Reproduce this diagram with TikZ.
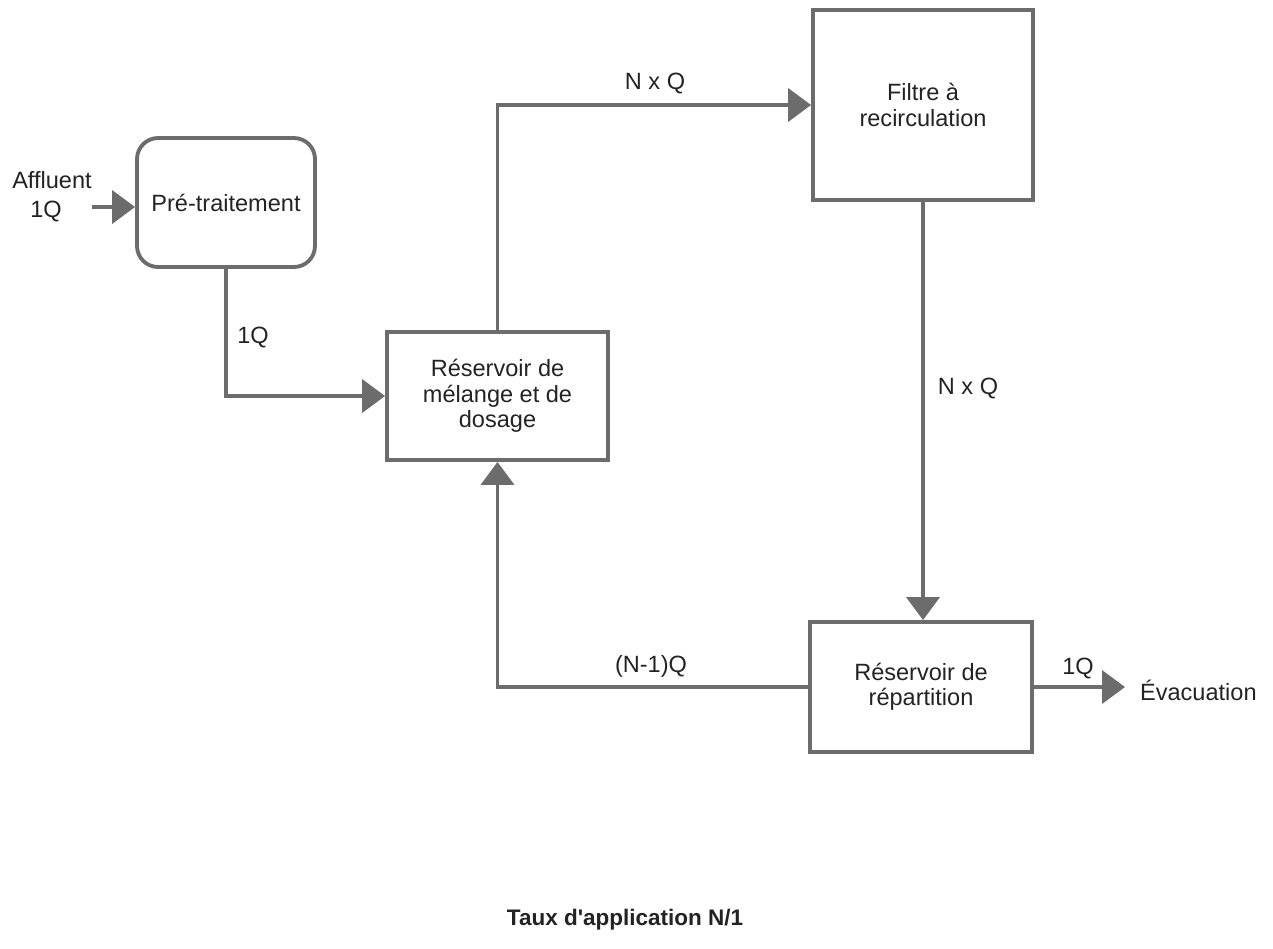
\documentclass[tikz,border=0pt]{standalone}
\usepackage{fontspec}
\setmainfont{Liberation Sans}
\usetikzlibrary{arrows.meta}
\definecolor{linegray}{RGB}{108,108,108}
\definecolor{txt}{RGB}{35,35,35}
\tikzset{
  flow/.style={draw=linegray, line width=2.2pt, -{Triangle[length=0.46cm, width=0.66cm, fill=linegray]}},
  plain/.style={draw=linegray, line width=2.2pt},
  box/.style={draw=linegray, line width=2.2pt, fill=white, align=center, text=txt,
    font=\fontsize{13.4}{14.4}\selectfont, inner sep=0pt},
  lab/.style={text=txt, font=\fontsize{13.4}{14}\selectfont, inner sep=1pt}
}
\begin{document}
\begin{tikzpicture}[x=0.02cm, y=-0.02cm]
\useasboundingbox (0,0) rectangle (1273,948);
% boxes
\node[box, rounded corners=0.42cm, minimum width=3.56cm, minimum height=2.58cm] (pre) at (226,202.5) {Pré-traitement};
\node[box, minimum width=4.42cm, minimum height=2.56cm] (mel) at (497.5,396) {Réservoir de\\mélange et de\\dosage};
\node[box, minimum width=4.40cm, minimum height=3.80cm] (fil) at (923,105) {Filtre à\\recirculation};
\node[box, minimum width=4.44cm, minimum height=2.60cm] (rep) at (921,687) {Réservoir de\\répartition};
% free ends
\coordinate (aff) at (92,207);
\coordinate (evac) at (1125,687);
% connectors
\draw[flow] (aff) -- (aff -| pre.west);
\draw[flow] (pre.south) |- (mel.west);
\draw[flow] (mel.north) |- (fil.west);
\draw[flow] (fil.south) -- (fil.south |- rep.north);
\draw[flow] (rep.west) -| (mel.south);
\draw[flow] (rep.east) -- (evac);
% labels
\node[lab] (laff) at (52,180) {Affluent};
\node[lab] (laffq) at (46,211) {1Q};
\node[lab] (l1q) at (253,337) {1Q};
\node[lab] (lnq1) at (655,83) {N x Q};
\node[lab] (lnq2) at (968,388) {N x Q};
\node[lab] (lnm1) at (651,666) {(N-1)Q};
\node[lab] (lout) at (1078,668) {1Q};
\node[lab, anchor=west] (levac) at (1138,690) {Évacuation};
\node[text=txt, font=\fontsize{12.8}{14}\bfseries\selectfont] (title) at (625,920) {Taux d\textquotesingle application N/1};
\end{tikzpicture}
\end{document}
